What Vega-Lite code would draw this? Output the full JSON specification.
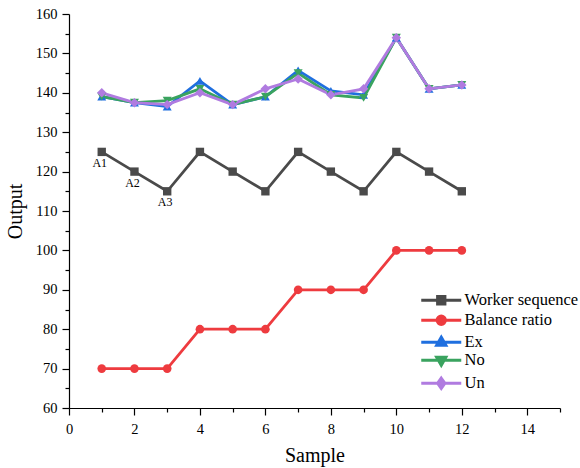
{
  "$schema": "https://vega.github.io/schema/vega-lite/v6.json",
  "autosize": {"type": "none"},
  "padding": {"left": 69, "top": 14, "right": 20, "bottom": 60},
  "width": 491,
  "height": 394,
  "background": "white",
  "config": {
    "view": {"stroke": null},
    "font": "Liberation Serif",
    "axis": {"domainColor": "black", "tickColor": "black", "labelColor": "black", "titleColor": "black", "labelFont": "Liberation Serif", "titleFont": "Liberation Serif", "labelFontSize": 14.5, "titleFontSize": 20, "titleFontWeight": "normal", "grid": false, "domainWidth": 1.2, "tickWidth": 1.2, "labelOverlap": false, "labelFlush": false},
    "legend": {"labelFont": "Liberation Serif", "labelFontSize": 16.5, "labelColor": "black", "padding": 0}
  },
  "datasets": {
    "series": [
      {"sample": 1, "value": 125, "series": "Worker sequence"},
      {"sample": 2, "value": 120, "series": "Worker sequence"},
      {"sample": 3, "value": 115, "series": "Worker sequence"},
      {"sample": 4, "value": 125, "series": "Worker sequence"},
      {"sample": 5, "value": 120, "series": "Worker sequence"},
      {"sample": 6, "value": 115, "series": "Worker sequence"},
      {"sample": 7, "value": 125, "series": "Worker sequence"},
      {"sample": 8, "value": 120, "series": "Worker sequence"},
      {"sample": 9, "value": 115, "series": "Worker sequence"},
      {"sample": 10, "value": 125, "series": "Worker sequence"},
      {"sample": 11, "value": 120, "series": "Worker sequence"},
      {"sample": 12, "value": 115, "series": "Worker sequence"},
      {"sample": 1, "value": 70, "series": "Balance ratio"},
      {"sample": 2, "value": 70, "series": "Balance ratio"},
      {"sample": 3, "value": 70, "series": "Balance ratio"},
      {"sample": 4, "value": 80, "series": "Balance ratio"},
      {"sample": 5, "value": 80, "series": "Balance ratio"},
      {"sample": 6, "value": 80, "series": "Balance ratio"},
      {"sample": 7, "value": 90, "series": "Balance ratio"},
      {"sample": 8, "value": 90, "series": "Balance ratio"},
      {"sample": 9, "value": 90, "series": "Balance ratio"},
      {"sample": 10, "value": 100, "series": "Balance ratio"},
      {"sample": 11, "value": 100, "series": "Balance ratio"},
      {"sample": 12, "value": 100, "series": "Balance ratio"},
      {"sample": 1, "value": 139, "series": "Ex"},
      {"sample": 2, "value": 137.5, "series": "Ex"},
      {"sample": 3, "value": 136.5, "series": "Ex"},
      {"sample": 4, "value": 143, "series": "Ex"},
      {"sample": 5, "value": 137, "series": "Ex"},
      {"sample": 6, "value": 139, "series": "Ex"},
      {"sample": 7, "value": 145.7, "series": "Ex"},
      {"sample": 8, "value": 140.5, "series": "Ex"},
      {"sample": 9, "value": 139.5, "series": "Ex"},
      {"sample": 10, "value": 154, "series": "Ex"},
      {"sample": 11, "value": 141, "series": "Ex"},
      {"sample": 12, "value": 142, "series": "Ex"},
      {"sample": 1, "value": 139, "series": "No"},
      {"sample": 2, "value": 137.5, "series": "No"},
      {"sample": 3, "value": 138, "series": "No"},
      {"sample": 4, "value": 141, "series": "No"},
      {"sample": 5, "value": 137, "series": "No"},
      {"sample": 6, "value": 139, "series": "No"},
      {"sample": 7, "value": 145, "series": "No"},
      {"sample": 8, "value": 139.5, "series": "No"},
      {"sample": 9, "value": 138.7, "series": "No"},
      {"sample": 10, "value": 154, "series": "No"},
      {"sample": 11, "value": 141, "series": "No"},
      {"sample": 12, "value": 142, "series": "No"},
      {"sample": 1, "value": 140, "series": "Un"},
      {"sample": 2, "value": 137.5, "series": "Un"},
      {"sample": 3, "value": 137, "series": "Un"},
      {"sample": 4, "value": 140, "series": "Un"},
      {"sample": 5, "value": 137, "series": "Un"},
      {"sample": 6, "value": 141, "series": "Un"},
      {"sample": 7, "value": 143.5, "series": "Un"},
      {"sample": 8, "value": 139.5, "series": "Un"},
      {"sample": 9, "value": 141, "series": "Un"},
      {"sample": 10, "value": 154, "series": "Un"},
      {"sample": 11, "value": 141, "series": "Un"},
      {"sample": 12, "value": 142, "series": "Un"}
    ],
    "labels": [
      {"sample": 1, "value": 125, "label": "A1"},
      {"sample": 2, "value": 120, "label": "A2"},
      {"sample": 3, "value": 115, "label": "A3"}
    ]
  },
  "encoding": {
    "x": {"field": "sample", "type": "quantitative", "scale": {"domain": [0, 15], "nice": false},
      "axis": {"title": "Sample", "values": [0,1,2,3,4,5,6,7,8,9,10,11,12,13,14,15], "labelOverlap": false, "labelExpr": "datum.value % 2 === 0 ? datum.label : ''", "tickSize": {"condition": {"test": "datum.value % 2 === 0", "value": 7}, "value": 4}, "labelPadding": 7, "titlePadding": 10}},
    "y": {"field": "value", "type": "quantitative", "scale": {"domain": [60, 160], "nice": false, "zero": false},
      "axis": {"title": "Output", "values": [60,65,70,75,80,85,90,95,100,105,110,115,120,125,130,135,140,145,150,155,160], "labelOverlap": false, "labelExpr": "datum.value % 10 === 0 ? datum.label : ''", "tickSize": {"condition": {"test": "datum.value % 10 === 0", "value": 7}, "value": 4}, "labelPadding": 5, "titlePadding": 10}},
    "color": {"field": "series", "type": "nominal",
      "scale": {"domain": ["Worker sequence", "Balance ratio", "Ex", "No", "Un"], "range": ["#4a4a4a", "#ee3b3f", "#1f6fdf", "#3aa35f", "#b07be0"]},
      "legend": {
        "title": null, "orient": "none", "legendX": 364, "legendY": 278, "rowPadding": 0, "symbolSize": 100, "labelOffset": 15,
        "encode": {"symbols": {"update": {
          "shape": {"signal": "datum.value === 'Worker sequence' ? 'M-4,0H4M-0.75,-0.75H0.75V0.75H-0.75Z' : datum.value === 'Balance ratio' ? 'M-4,0H4M0.85,0A0.85,0.85,0,1,1,-0.85,0A0.85,0.85,0,1,1,0.85,0Z' : datum.value === 'Ex' ? 'M-4,0H4M0,-1.05L0.95,0.6H-0.95Z' : datum.value === 'No' ? 'M-4,0H4M0,1.05L0.95,-0.6H-0.95Z' : 'M-4,0H4M0,-1.05L0.75,0L0,1.05L-0.75,0Z'"},
          "stroke": {"signal": "scale('color', datum.value)"},
          "fill": {"signal": "scale('color', datum.value)"},
          "strokeWidth": {"value": 2.8},
          "opacity": {"value": 1}
        }}}
      }}
  },
  "layer": [
    {"data": {"name": "series"}, "mark": {"type": "line", "strokeWidth": 2.8}},
    {"data": {"name": "series"}, "transform": [{"filter": "datum.series === 'Worker sequence'"}], "mark": {"type": "point", "filled": true, "opacity": 1, "size": 70, "shape": "square"}},
    {"data": {"name": "series"}, "transform": [{"filter": "datum.series === 'Balance ratio'"}], "mark": {"type": "point", "filled": true, "opacity": 1, "size": 75, "shape": "circle"}},
    {"data": {"name": "series"}, "transform": [{"filter": "datum.series === 'Ex'"}], "mark": {"type": "point", "filled": true, "opacity": 1, "size": 80, "shape": "triangle-up"}},
    {"data": {"name": "series"}, "transform": [{"filter": "datum.series === 'No'"}], "mark": {"type": "point", "filled": true, "opacity": 1, "size": 80, "shape": "triangle-down"}},
    {"data": {"name": "series"}, "transform": [{"filter": "datum.series === 'Un'"}], "mark": {"type": "point", "filled": true, "opacity": 1, "size": 90, "shape": "diamond"}},
    {
      "data": {"name": "labels"},
      "mark": {"type": "text", "font": "Liberation Serif", "fontSize": 12, "dy": 11, "dx": -2, "color": "black"},
      "encoding": {
        "text": {"field": "label"},
        "color": {"value": "black"}
      }
    }
  ]
}
